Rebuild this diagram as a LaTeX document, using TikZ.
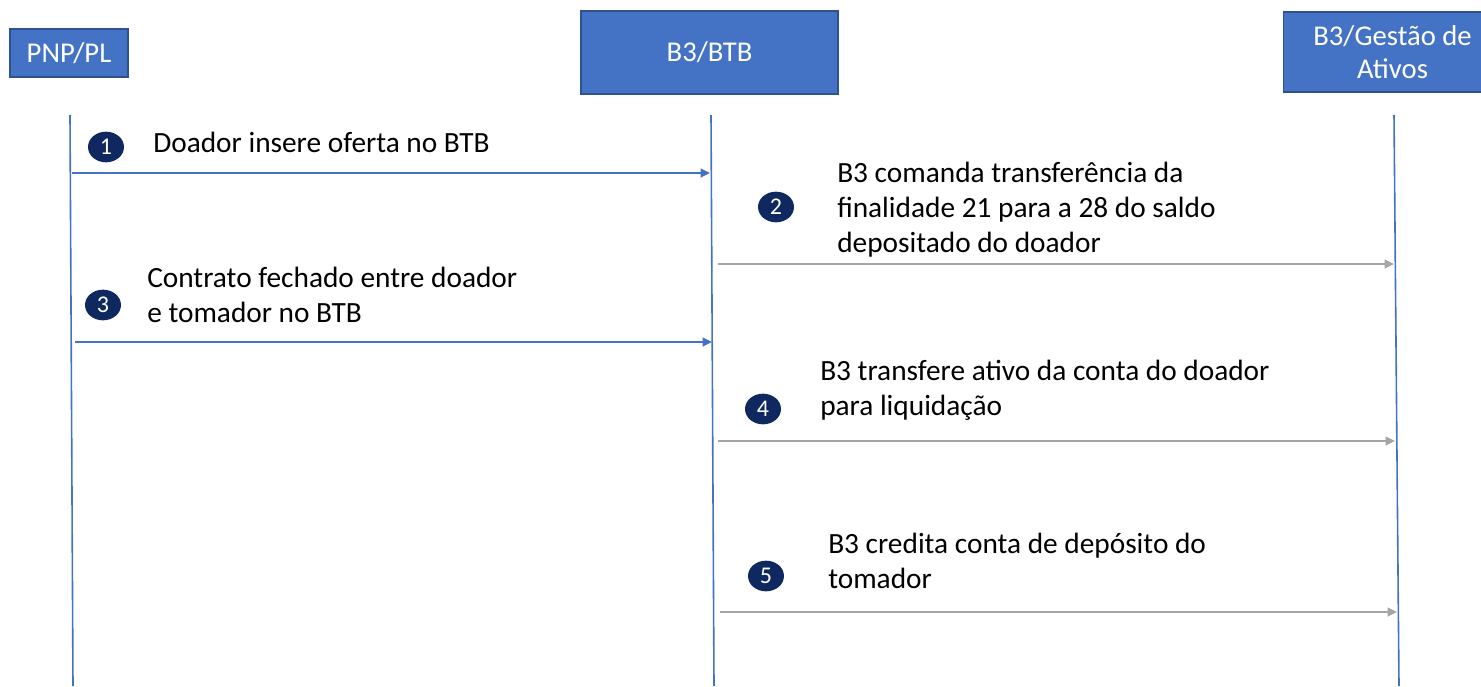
\documentclass[tikz,border=0pt]{standalone}
\usepackage{fontspec}
\setmainfont{Carlito}
\usetikzlibrary{arrows.meta,shapes.geometric}
\definecolor{boxblue}{HTML}{4472C4}
\definecolor{boxedge}{HTML}{2F528F}
\definecolor{arrgray}{HTML}{A5A5A5}
\definecolor{navy}{HTML}{0F2860}
\tikzset{
  actor/.style={draw=boxedge, line width=0.8pt, fill=boxblue, text=white, font=\fontsize{21.5}{24.75}\selectfont, align=center, inner sep=0pt},
  lifeline/.style={draw=boxblue, line width=1.2pt},
  bluemsg/.style={draw=boxblue, line width=1.6pt, -{Triangle[length=7pt,width=6.5pt]}},
  graymsg/.style={draw=arrgray, line width=1.6pt, -{Triangle[length=7pt,width=6.5pt]}},
  msgtext/.style={anchor=base west, inner sep=0pt, align=left, font=\fontsize{22}{26.25}\selectfont},
  num/.style={ellipse, fill=navy, text=white, inner sep=0pt, minimum width=27pt, minimum height=23pt, font=\fontsize{18}{18}\selectfont},
}
\begin{document}
\begin{tikzpicture}[x=0.75pt,y=-0.75pt]
\useasboundingbox (0,0) rectangle (1481,686);
% actors
\node[actor, minimum width=88.5pt, minimum height=36pt] (pnp) at (69,53) {PNP/PL};
\node[actor, minimum width=192.75pt, minimum height=62.25pt] (btb) at (709.5,52.5) {B3/BTB};
\node[actor, minimum width=164pt, minimum height=60pt] (gest) at (1392.5,52) {B3/Gestão de\\Ativos};
% lifelines
\coordinate (l1t) at (70,115); \coordinate (l1b) at (73,686);
\coordinate (l2t) at (711,115); \coordinate (l2b) at (714,686);
\coordinate (l3t) at (1394,115); \coordinate (l3b) at (1399,686);
\draw[lifeline] (l1t) -- (l1b);
\draw[lifeline] (l2t) -- (l2b);
\draw[lifeline] (l3t) -- (l3b);
% message endpoints
\coordinate (m1s) at (72,173); \coordinate (m1e) at (710,173);
\coordinate (m2s) at (718,264); \coordinate (m2e) at (1394,264);
\coordinate (m3s) at (75,342); \coordinate (m3e) at (712,342);
\coordinate (m4s) at (718,441); \coordinate (m4e) at (1395,441);
\coordinate (m5s) at (720,612); \coordinate (m5e) at (1397,612);
\draw[bluemsg] (m1s) -- (m1e);
\draw[graymsg] (m2s) -- (m2e);
\draw[bluemsg] (m3s) -- (m3e);
\draw[graymsg] (m4s) -- (m4e);
\draw[graymsg] (m5s) -- (m5e);
% numbers
\node[num] (n1) at (106,147) {1};
\node[num] (n2) at (776,207) {2};
\node[num] (n3) at (103,305) {3};
\node[num] (n4) at (763,409) {4};
\node[num] (n5) at (766,576) {5};
% texts (anchored at the baseline of the last line)
\node[msgtext] (t1) at (153,152) {Doador insere oferta no BTB};
\node[msgtext] (t2) at (837,252) {B3 comanda transferência da\\finalidade 21 para a 28 do saldo\\depositado do doador};
\node[msgtext] (t3) at (147,322) {Contrato fechado entre doador\\e tomador no BTB};
\node[msgtext] (t4) at (820,415) {B3 transfere ativo da conta do doador\\para liquidação};
\node[msgtext] (t5) at (828,588) {B3 credita conta de depósito do\\tomador};
\end{tikzpicture}
\end{document}
